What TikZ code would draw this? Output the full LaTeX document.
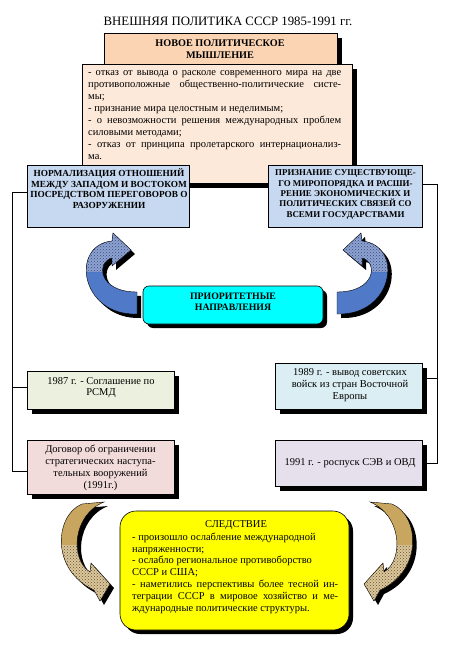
\documentclass[tikz,border=0pt]{standalone}
\usepackage{fontspec}
\setmainfont{Liberation Serif}
\usetikzlibrary{shadows,patterns}
\definecolor{peach}{HTML}{FBD4B4}
\definecolor{lpeach}{HTML}{FDE9D9}
\definecolor{lblue}{HTML}{C6D9F1}
\definecolor{lgreen}{HTML}{EBF1DE}
\definecolor{lpink}{HTML}{F2DCDB}
\definecolor{lcyan}{HTML}{DBEEF3}
\definecolor{lviolet}{HTML}{E5E0EC}
\definecolor{brightcyan}{HTML}{00FFFF}
\definecolor{brightyellow}{HTML}{FFFF00}
\definecolor{arrblue}{HTML}{5079C8}
\definecolor{arrbluetex}{HTML}{8FA3D3}
\definecolor{arrbrown}{HTML}{C9A660}
\definecolor{arrbrowntex}{HTML}{DCC79C}
\def\bluepath{(137,314) .. controls (80,316) and (70,245) .. (112,241) -- (113,233) -- (131,250) -- (112,266) -- (112,258) .. controls (96,262) and (98,292) .. (137,292) -- cycle}
\def\brownpath{(82,504) .. controls (55,515) and (50,570) .. (94,590) -- (100,601) -- (110,584) -- (91,563) -- (90,572) .. controls (70,560) and (72,515) .. (104,502) -- cycle}
\begin{document}
\begin{tikzpicture}[x=1pt,y=-1pt,
  box/.style={draw=black, line width=0.6pt, rectangle, inner sep=0pt},
  shad/.style={drop shadow={shadow xshift=5pt,shadow yshift=-5pt,fill=black,opacity=1}},
  hd/.style={font=\fontsize{9.3}{10.4}\selectfont\bfseries, align=center, inner sep=0pt},
  bodytxt/.style={font=\fontsize{10.5}{11.8}\selectfont, align=center, inner sep=0pt},
  conn/.style={draw=black, line width=0.6pt}]
\useasboundingbox (0,0) rectangle (449,647);
\fill[white] (0,0) rectangle (449,647);

% title
\node[font=\fontsize{12.8}{14}\selectfont, inner sep=0pt] (title) at (228,21) {ВНЕШНЯЯ ПОЛИТИКА СССР 1985-1991 гг.};

% heading and list
\node[box, shad, fill=peach, minimum width=233pt, minimum height=37pt] (head) at (220.5,51.5) {};
\node[hd, font=\fontsize{10.2}{12}\selectfont\bfseries] (headtxt) at (220,49) {НОВОЕ ПОЛИТИЧЕСКОЕ\\МЫШЛЕНИЕ};
\node[box, shad, fill=lpeach, minimum width=270pt, minimum height=119pt] (list) at (217,123.5) {};
\node[anchor=north west, inner sep=0pt, font=\fontsize{10.5}{12}\selectfont, align=left] (listtxt) at (88,70) {%
\makebox[253pt][s]{- отказ от вывода о расколе современного мира на две}\\
\makebox[253pt][s]{противоположные общественно-политические систе-}\\
мы;\\
- признание мира целостным и неделимым;\\
\makebox[253pt][s]{- о невозможности решения международных проблем}\\
силовыми методами;\\
\makebox[253pt][s]{- отказ от принципа пролетарского интернационализ-}\\
ма.};

% blue boxes
\node[box, fill=lblue, minimum width=162pt, minimum height=62pt] (lb) at (108,196) {};
\node[hd] (lbtxt) at (109,188.5) {НОРМАЛИЗАЦИЯ ОТНОШЕНИЙ\\МЕЖДУ ЗАПАДОМ И ВОСТОКОМ\\ПОСРЕДСТВОМ ПЕРЕГОВОРОВ О\\РАЗОРУЖЕНИИ};
\node[box, fill=lblue, minimum width=154pt, minimum height=62pt] (rb) at (345,196) {};
\node[hd, font=\fontsize{8.9}{10.3}\selectfont\bfseries] (rbtxt) at (345.5,194.5) {ПРИЗНАНИЕ СУЩЕСТВУЮЩЕ-\\ГО МИРОПОРЯДКА И РАСШИ-\\РЕНИЕ ЭКОНОМИЧЕСКИХ И\\ПОЛИТИЧЕСКИХ СВЯЗЕЙ СО\\ВСЕМИ ГОСУДАРСТВАМИ};

% priority box
\node[box, rounded corners=6pt, drop shadow={shadow xshift=4pt,shadow yshift=-4pt,fill=black,opacity=1}, fill=brightcyan, minimum width=180pt, minimum height=38pt] (prio) at (233,305) {};
\node[hd, font=\fontsize{9.8}{10.6}\selectfont\bfseries] (priotxt) at (233,302) {ПРИОРИТЕТНЫЕ\\НАПРАВЛЕНИЯ};

% event boxes
\node[box, shad, fill=lgreen, minimum width=147pt, minimum height=38pt] (b87) at (100.5,390) {};
\node[bodytxt, font=\fontsize{10.5}{11}\selectfont] (b87txt) at (101,387.5) {1987 г. - Соглашение по\\РСМД};
\node[box, shad, fill=lpink, minimum width=147pt, minimum height=54pt] (b91a) at (100.5,467) {};
\node[bodytxt] (b91atxt) at (100.5,468) {Договор об ограничении\\стратегических наступа-\\тельных вооружений\\(1991г.)};
\node[box, shad, fill=lcyan, minimum width=147pt, minimum height=46pt] (b89) at (348.5,386) {};
\node[bodytxt] (b89txt) at (350,385) {1989 г. - вывод советских\\войск из стран Восточной\\Европы};
\node[box, shad, fill=lviolet, minimum width=147pt, minimum height=46pt] (b91b) at (348.5,463) {};
\node[bodytxt] (b91btxt) at (350,463) {1991 г. - роспуск СЭВ и ОВД};

% connectors
\coordinate (Lt) at (12,192);
\coordinate (Lm) at (12,387);
\coordinate (Lb) at (12,471);
\coordinate (Rt) at (437,184);
\coordinate (Rm) at (437,378);
\coordinate (Rb) at (437,463);
\draw[conn] (lb.west |- Lt) -- (Lt) -- (Lb) -- (b91a.west |- Lb);
\draw[conn] (Lm) -- (b87.west |- Lm);
\draw[conn] (rb.east |- Rt) -- (Rt) -- (Rb) -- (b91b.east |- Rb);
\draw[conn] (Rm) -- (b89.east |- Rm);

% result box
\node[box, rounded corners=16pt, drop shadow={shadow xshift=4pt,shadow yshift=-4pt,fill=black,opacity=1}, fill=brightyellow, minimum width=229pt, minimum height=119pt] (res) at (234.5,570.5) {};
\node[bodytxt] (restitle) at (236,525) {СЛЕДСТВИЕ};
\node[anchor=north west, inner sep=0pt, font=\fontsize{10.5}{11.8}\selectfont, align=left] (restxt) at (132,532.5) {%
- произошло ослабление международной\\
напряженности;\\
- ослабло региональное противоборство\\
СССР и США;\\
\makebox[206pt][s]{- наметились перспективы более тесной ин-}\\
\makebox[206pt][s]{теграции СССР в мировое хозяйство и ме-}\\
ждународные политические структуры.};

% blue curved arrows
\fill[black, shift={(4,4)}] \bluepath;
\fill[arrblue] \bluepath;
\begin{scope}
\clip \bluepath;
\fill[arrbluetex] (60,225) rectangle (140,272);
\fill[pattern=crosshatch dots, pattern color=arrblue!60!black] (60,225) rectangle (140,272);
\end{scope}
\draw[line width=0.4pt] \bluepath;
\begin{scope}[shift={(474,0)}, xscale=-1]
\fill[black, shift={(-4,4)}] \bluepath;
\fill[arrblue] \bluepath;
\begin{scope}
\clip \bluepath;
\fill[arrbluetex] (60,225) rectangle (140,272);
\fill[pattern=crosshatch dots, pattern color=arrblue!60!black] (60,225) rectangle (140,272);
\end{scope}
\draw[line width=0.4pt] \bluepath;
\end{scope}

% brown curved arrows
\fill[black, shift={(4,4)}] \brownpath;
\fill[arrbrown] \brownpath;
\begin{scope}
\clip \brownpath;
\fill[arrbrowntex] (40,545) rectangle (120,610);
\fill[pattern=crosshatch dots, pattern color=arrbrown!50!black] (40,545) rectangle (120,610);
\end{scope}
\draw[line width=0.4pt] \brownpath;
\begin{scope}[shift={(474,0)}, xscale=-1]
\fill[black, shift={(-4,4)}] \brownpath;
\fill[arrbrown] \brownpath;
\begin{scope}
\clip \brownpath;
\fill[arrbrowntex] (40,545) rectangle (120,610);
\fill[pattern=crosshatch dots, pattern color=arrbrown!50!black] (40,545) rectangle (120,610);
\end{scope}
\draw[line width=0.4pt] \brownpath;
\end{scope}
\end{tikzpicture}
\end{document}
